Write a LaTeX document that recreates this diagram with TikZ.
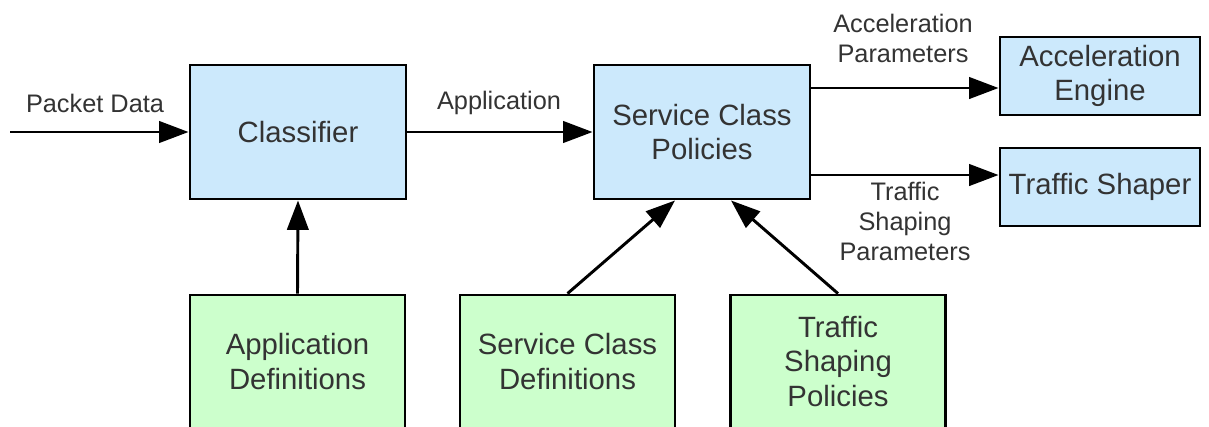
\documentclass[tikz,border=0pt]{standalone}
\usepackage{fontspec}
\setmainfont{Liberation Sans}
\usetikzlibrary{arrows.meta,calc}
\definecolor{bluefill}{HTML}{CCE9FC}
\definecolor{greenfill}{HTML}{CCFFCC}
\definecolor{txt}{HTML}{333333}
\tikzset{
  bluebox/.style={draw=black, line width=2.2pt, fill=bluefill, text=txt, inner sep=0pt, align=center,
    font=\fontsize{22}{26}\selectfont},
  greenbox/.style={draw=black, line width=2.2pt, fill=greenfill, text=txt, inner sep=0pt, align=center,
    minimum width=161.25pt, minimum height=99.75pt, font=\fontsize{22}{26}\selectfont},
  arr/.style={line width=2.2pt, -{Triangle[length=22pt,width=16pt]}},
  lbl/.style={text=txt, align=center, inner sep=0pt, font=\fontsize{19}{22.5}\selectfont}
}
\begin{document}
\begin{tikzpicture}[x=0.75pt,y=-0.75pt]
\useasboundingbox (0,0) rectangle (1209,426);
\clip (0,0) rectangle (1209,426);
\node[bluebox, minimum width=162pt, minimum height=100.5pt] (cls) at (298,132) {Classifier};
\node[bluebox, minimum width=162pt, minimum height=100.5pt] (scp) at (702,132) {Service Class\\Policies};
\node[bluebox, minimum width=150pt, minimum height=58.5pt] (ae) at (1100,76) {Acceleration\\Engine};
\node[bluebox, minimum width=150pt, minimum height=58.5pt] (ts) at (1100,187) {Traffic Shaper};
\node[greenbox] (ad) at (297.5,361.5) {Application\\Definitions};
\node[greenbox] (scd) at (567.5,361.5) {Service Class\\Definitions};
\node[greenbox] (tsp) at (838,361.5) {Traffic\\Shaping\\Policies};
\coordinate (in) at (10,132);
\draw[arr] (in) -- (cls.west);
\draw[arr] (cls.east) -- (scp.west);
\draw[arr] ([yshift=33pt]scp.east) -- ([yshift=33pt]scp.east -| ae.west);
\draw[arr] ([yshift=-32.25pt]scp.east) -- ([yshift=-32.25pt]scp.east -| ts.west);
\draw[arr] (ad.north) -- (cls.south);
\draw[arr] (scd.north) -- ([xshift=-20.25pt]scp.south);
\draw[arr] (tsp.north) -- ([xshift=21.75pt]scp.south);
\node[lbl] (lpd) at (95,103) {Packet Data};
\node[lbl] (lapp) at (499,103) {Application};
\node[lbl] (lap) at (903,38) {Acceleration\\Parameters};
\node[lbl] (ltsp) at (905,221) {Traffic\\Shaping\\Parameters};
\end{tikzpicture}
\end{document}
